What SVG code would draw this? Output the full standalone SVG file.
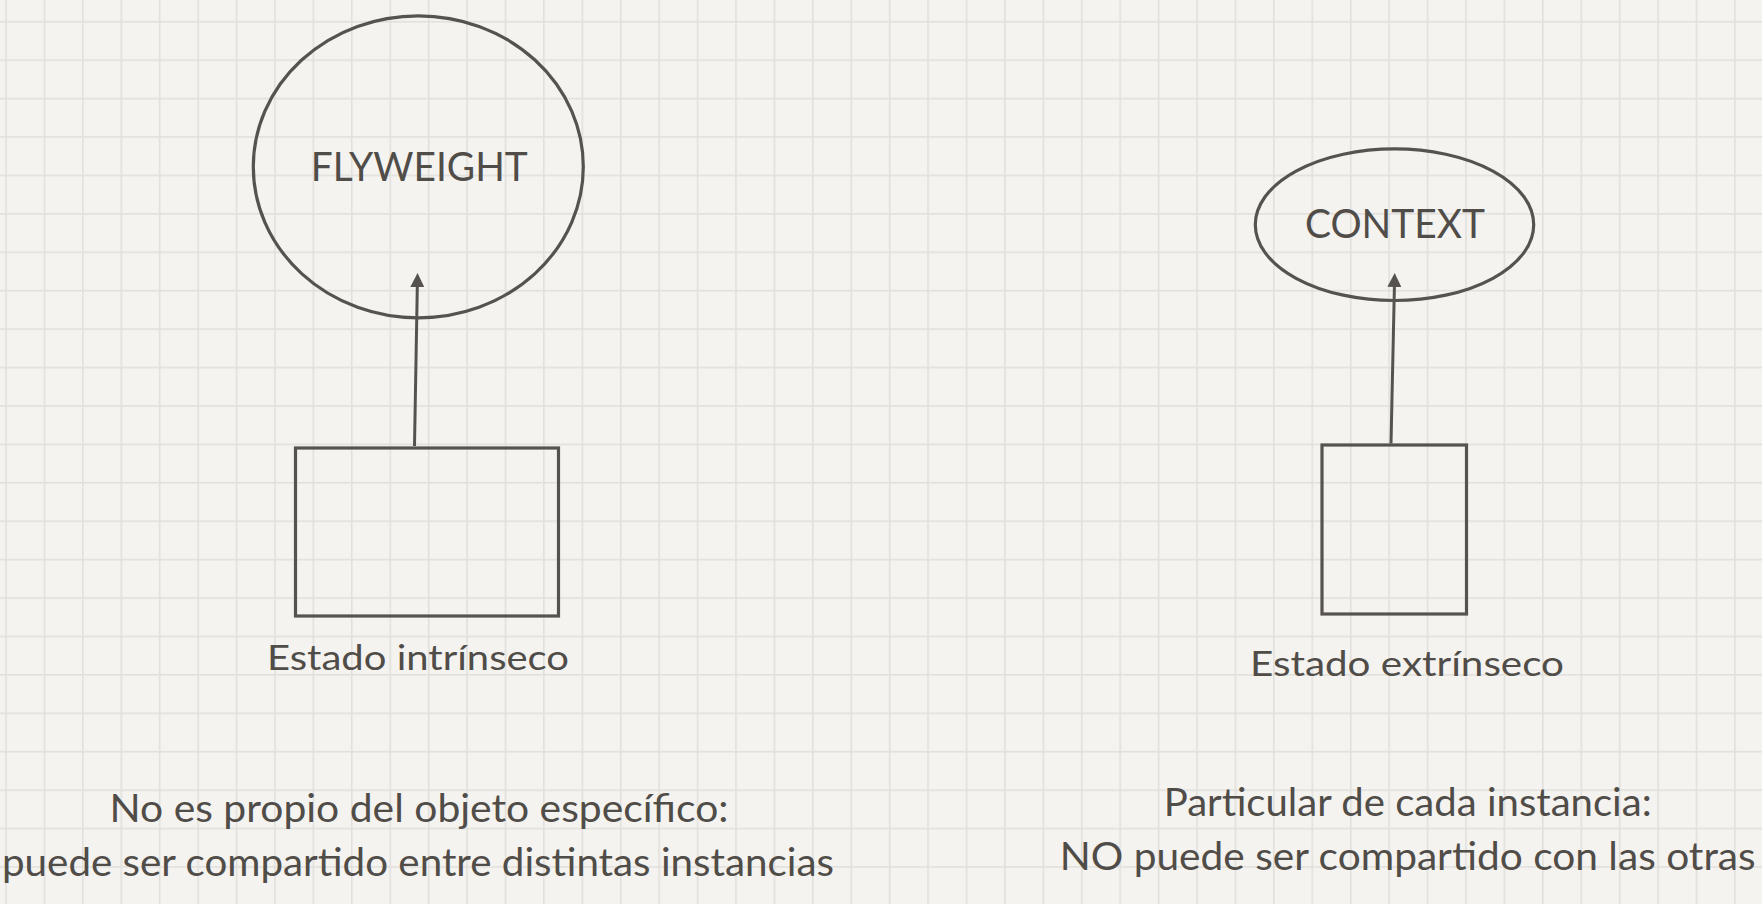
<svg xmlns="http://www.w3.org/2000/svg" width="1762" height="904" viewBox="0 0 1762 904">
  <defs>
    <pattern id="grid" patternUnits="userSpaceOnUse" x="5.2" y="20.9" width="38.42" height="38.42">
      <rect x="0" y="0" width="38.42" height="38.42" fill="#f4f3f0"/>
      <rect x="0" y="0" width="1.6" height="38.42" fill="#e1e0dc"/>
      <rect x="0" y="0" width="38.42" height="1.6" fill="#e1e0dc"/>
    </pattern>
    <marker id="arrow" markerUnits="userSpaceOnUse" viewBox="0 0 14 14" refX="0" refY="7" markerWidth="14" markerHeight="14" orient="auto">
      <path d="M0,0 L14,7 L0,14 z" fill="#56534f"/>
    </marker>
    <style>
      .shape { fill: none; stroke: #56534f; stroke-width: 3.2; }
      .conn { fill: none; stroke: #56534f; stroke-width: 3; marker-end: url(#arrow); }
      .title { font-family: Lato, "Liberation Sans", sans-serif; font-size: 41px; fill: #504c48; text-anchor: middle; }
      .label { font-family: Lato, "Liberation Sans", sans-serif; font-size: 35px; fill: #504c48; text-anchor: middle; }
      .note { font-family: Lato, "Liberation Sans", sans-serif; font-size: 38px; fill: #504c48; text-anchor: middle; }
    </style>
  </defs>
  <rect x="0" y="0" width="1762" height="904" fill="url(#grid)"/>

  <g id="connectors">
    <line class="conn" x1="414.5" y1="446" x2="417.3" y2="287"/>
    <line class="conn" x1="1391" y1="443.5" x2="1394.4" y2="287"/>
  </g>

  <g id="flyweight">
    <ellipse class="shape" cx="418.3" cy="166.8" rx="165" ry="151"/>
    <text class="title" x="419.3" y="181" textLength="217" lengthAdjust="spacingAndGlyphs">FLYWEIGHT</text>
  </g>

  <g id="context">
    <ellipse class="shape" cx="1394.5" cy="224.7" rx="139.2" ry="75.8"/>
    <text class="title" x="1395" y="238" textLength="180" lengthAdjust="spacingAndGlyphs">CONTEXT</text>
  </g>

  <g id="intrinsic-state">
    <rect class="shape" x="295.5" y="448" width="263" height="168"/>
    <text class="label" x="418" y="670" textLength="302" lengthAdjust="spacingAndGlyphs">Estado intrínseco</text>
  </g>

  <g id="extrinsic-state">
    <rect class="shape" x="1322" y="445" width="144.5" height="169"/>
    <text class="label" x="1407" y="676" textLength="314" lengthAdjust="spacingAndGlyphs">Estado extrínseco</text>
  </g>

  <g id="intrinsic-note">
    <text class="note" x="419" y="822" textLength="619" lengthAdjust="spacingAndGlyphs">No es propio del objeto específico:</text>
    <text class="note" x="418" y="876" textLength="832" lengthAdjust="spacingAndGlyphs">puede ser compartido entre distintas instancias</text>
  </g>

  <g id="extrinsic-note">
    <text class="note" x="1407.7" y="816" textLength="488" lengthAdjust="spacingAndGlyphs">Particular de cada instancia:</text>
    <text class="note" x="1407.7" y="870" textLength="696" lengthAdjust="spacingAndGlyphs">NO puede ser compartido con las otras</text>
  </g>
</svg>
